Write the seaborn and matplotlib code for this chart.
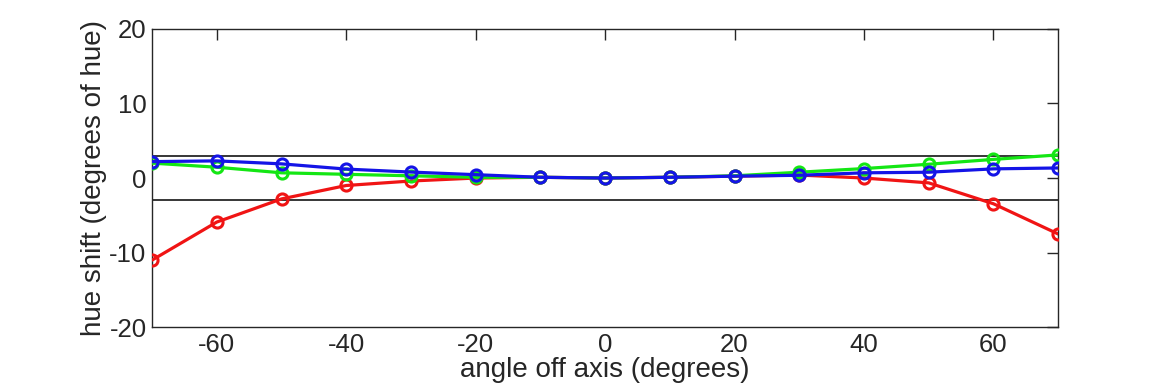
import numpy as np
import pandas as pd
import matplotlib
matplotlib.use('Agg')
import matplotlib.pyplot as plt
import seaborn as sns

angles = [-70, -60, -50, -40, -30, -20, -10, 0, 10, 20, 30, 40, 50, 60, 70]
red = [-11.0, -5.9, -2.8, -1.0, -0.4, 0.0, 0.1, 0.0, 0.1, 0.25, 0.4, 0.0, -0.65, -3.45, -7.5]
green = [2.0, 1.45, 0.7, 0.5, 0.3, 0.1, 0.1, 0.0, 0.1, 0.3, 0.78, 1.27, 1.85, 2.5, 3.1]
blue = [2.2, 2.3, 1.9, 1.2, 0.8, 0.45, 0.1, 0.0, 0.1, 0.25, 0.37, 0.7, 0.78, 1.23, 1.35]
limit = 3

sns.set_style('white')
plt.rcParams['font.family'] = ['Liberation Sans', 'DejaVu Sans']
plt.rcParams['axes.unicode_minus'] = False

fig = plt.figure(figsize=(11.7, 3.9), dpi=100)
ax = fig.add_axes([0.13, 0.161, 0.7744, 0.765])

ax.axhline(limit, color='black', linewidth=1.1, zorder=1)
ax.axhline(-limit, color='black', linewidth=1.1, zorder=1)

for vals, col in [(red, '#f01414'), (green, '#14e614'), (blue, '#1414e6')]:
    sns.lineplot(x=angles, y=vals, ax=ax, color=col, linewidth=2.3,
                 marker='o', markersize=8, markerfacecolor='none',
                 markeredgecolor=col, markeredgewidth=2.2, zorder=3)

ax.set_xlim(-70, 70)
ax.set_ylim(-20, 20)
ax.set_xticks([-60, -40, -20, 0, 20, 40, 60])
ax.set_yticks([-20, -10, 0, 10, 20])
ax.tick_params(direction='in', length=8, width=1, colors='#262626',
               labelsize=18.5, top=True, right=True, pad=4)
for s in ax.spines.values():
    s.set_color('#262626')
    s.set_linewidth(1)
ax.set_xlabel('angle off axis (degrees)', fontsize=20, color='#262626', labelpad=0)
ax.set_ylabel('hue shift (degrees of hue)', fontsize=20, color='#262626', labelpad=2)

fig.savefig('out.png', dpi=100)
